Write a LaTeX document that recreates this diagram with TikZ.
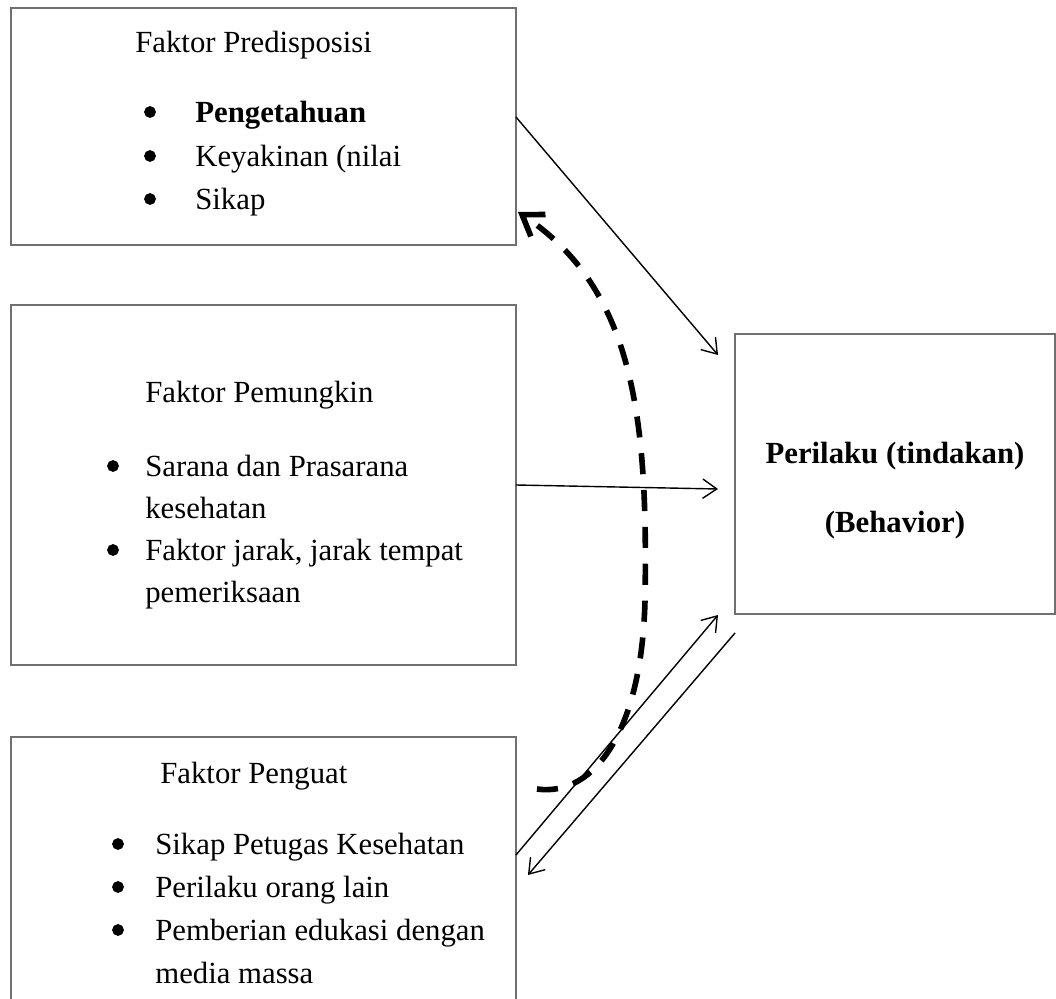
\documentclass[tikz,border=0pt]{standalone}
\usepackage{fontspec}
\setmainfont{Liberation Serif}
\usetikzlibrary{calc, positioning, arrows.meta}
\definecolor{boxgray}{RGB}{112,112,112}
\tikzstyle{faktor}=[shape=rectangle, draw=boxgray, line width=0.8pt, inner sep=0pt, outer sep=0pt]
\tikzstyle{teks}=[anchor=base west, inner sep=0pt]
\tikzstyle{bul}=[shape=circle, draw=black, fill=black, inner sep=0pt, minimum size=0.22cm]
\tikzstyle{panah}=[line width=0.8pt, -{Straight Barb[length=8pt,width=11pt]}]
\tikzstyle{balik}=[line width=3.2pt, dash pattern=on 12pt off 9pt, -{Straight Barb[length=11pt,width=15pt]}]

\begin{document}
\begin{tikzpicture}[x=0.02cm, y=-0.02cm, font=\fontsize{17.5}{21}\selectfont]
\useasboundingbox (0,0) rectangle (1056,999);
\clip (0,0) rectangle (1056,999);
% boxes
\node [faktor, minimum width=10.1cm, minimum height=4.74cm](pred) at (263.5,126.5){};
\node [faktor, minimum width=10.1cm, minimum height=7.2cm](pem) at (263.5,485){};
\node [faktor, minimum width=10.1cm, minimum height=5.8cm](pen) at (263.5,882){};
\node [faktor, minimum width=6.4cm, minimum height=5.6cm](beh) at (895,474){};
% Faktor Predisposisi
\node [teks](predjdl) at (135,53){Faktor Predisposisi};
\node [bul](p1) at (150,112){}; \node [bul](p2) at (150,156){}; \node [bul](p3) at (150,199){};
\node [teks](predt1) at (195,123){\textbf{Pengetahuan}};
\node [teks](predt2) at (195,167){Keyakinan (nilai};
\node [teks](predt3) at (195,210){Sikap};
% Faktor Pemungkin
\node [teks](pemjdl) at (145,403){Faktor Pemungkin};
\node [bul](m1) at (113,466){}; \node [bul](m2) at (113,550){};
\node [teks](pemt1) at (145,477){Sarana dan Prasarana};
\node [teks](pemt2) at (145,519){kesehatan};
\node [teks](pemt3) at (145,561){Faktor jarak, jarak tempat};
\node [teks](pemt4) at (145,603){pemeriksaan};
% Faktor Penguat
\node [teks](penjdl) at (160,784){Faktor Penguat};
\node [bul](g1) at (118,844){}; \node [bul](g2) at (118,887){}; \node [bul](g3) at (118,930){};
\node [teks](pent1) at (155,855){Sikap Petugas Kesehatan};
\node [teks](pent2) at (155,898){Perilaku orang lain};
\node [teks](pent3) at (155,941){Pemberian edukasi dengan};
\node [teks](pent4) at (155,984){media massa};
% Perilaku
\node [anchor=base, inner sep=0pt](beht1) at (895,464){\textbf{Perilaku (tindakan)}};
\node [anchor=base, inner sep=0pt](beht2) at (895,533){\textbf{(Behavior)}};
% arrows
\draw [panah] ($(pred.east)+(0,-9.5)$) -- ($(beh.north west)+(-17,21)$);
\draw [panah] (pem.east) -- ($(beh.west)+(-17,15)$);
\draw [panah] ($(pen.north east)+(0,118)$) -- ($(beh.south west)+(-17,1)$);
\draw [panah] ($(beh.south west)+(0,19)$) -- ($(pen.north east)+(12,138)$);
\draw [balik] ($(pen.north east)+(21,52)$) .. controls (595,797) and (642,730) .. (645,600)
  .. controls (648,420) and (635,290) .. ($(pred.south east)+(2,-33)$);
\end{tikzpicture}
\end{document}
